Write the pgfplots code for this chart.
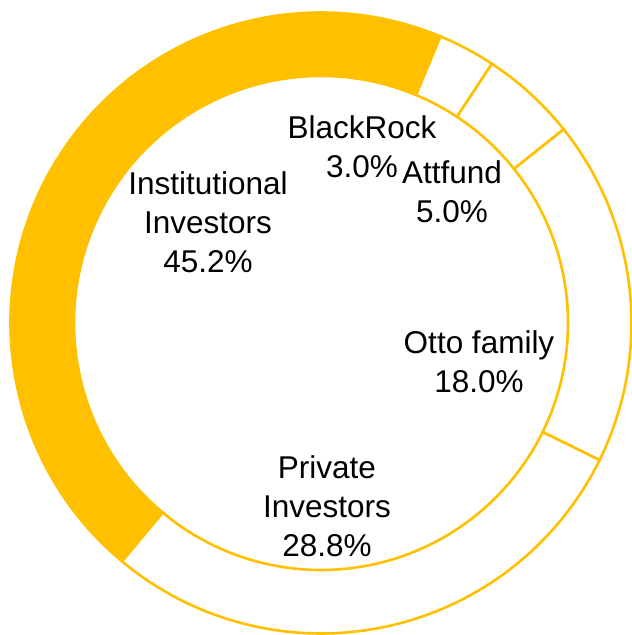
\documentclass[border=0pt]{standalone}
\usepackage{fontspec}
\setmainfont{Liberation Sans}
\usepackage{pgfplots}
\usepackage{pgfplotstable}
\pgfplotsset{compat=1.18}
\definecolor{donut}{HTML}{FFC000}

% shareholder structure, percent (clockwise from the top, Institutional last)
\pgfplotstableread{
value
3.0
5.0
18.0
28.8
45.2
}\shares

\begin{document}
\begin{tikzpicture}
\begin{axis}[
    scale only axis,
    width=632pt, height=635pt,
    xmin=0, xmax=632, ymin=0, ymax=635,
    hide axis, clip=false,
]
\pgfplotstablegetrowsof{\shares}
\pgfmathtruncatemacro\nrows{\pgfplotsretval-1}
\xdef\angA{67.4}
\foreach \i in {0,...,\nrows}{
  \pgfplotstablegetelem{\i}{value}\of{\shares}
  \pgfmathsetmacro\angB{\angA-3.6*\pgfplotsretval}
  \ifnum\i=\nrows \def\fillcol{donut}\else\def\fillcol{white}\fi
  \edef\temp{\noexpand\filldraw[overlay, fill=\fillcol, draw=donut, line width=2.6pt, line join=miter]
    (axis cs:321,312) ++(\angA:310.5pt)
    arc[start angle=\angA, end angle=\angB, radius=310.5pt]
    -- ++(\angB:-63.5pt)
    arc[start angle=\angB, end angle=\angA, radius=247pt] -- cycle;}
  \temp
  \xdef\angA{\angB}
}
\path (axis cs:0,0) rectangle (axis cs:632,635);
\begin{scope}[every node/.style={align=center, font=\fontsize{31.5}{39}\selectfont}]
\node at (axis cs:208,413) {Institutional\\Investors\\45.2\%};
\node at (axis cs:362,488) {BlackRock\\3.0\%};
\node at (axis cs:452,443) {Attfund\\5.0\%};
\node at (axis cs:479,273) {Otto family\\18.0\%};
\node at (axis cs:327,129) {Private\\Investors\\28.8\%};
\end{scope}
\end{axis}
\end{tikzpicture}
\end{document}
